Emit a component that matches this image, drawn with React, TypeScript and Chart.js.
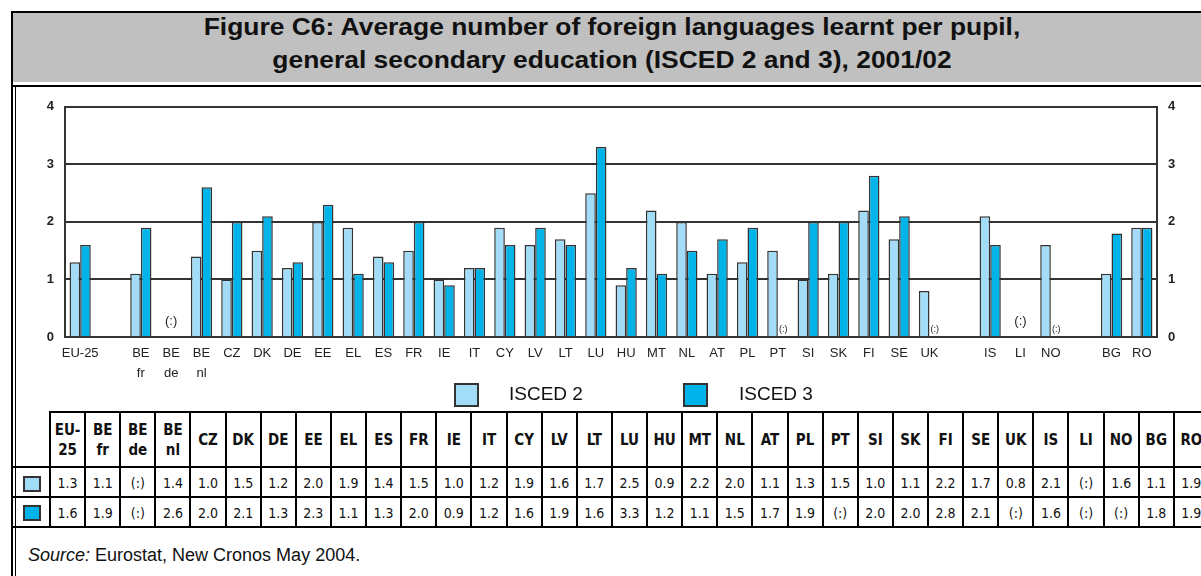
import React, { useEffect, useRef } from 'react';
import { Chart, registerables } from 'chart.js';
Chart.register(...registerables);

const COUNTRIES = ['EU-25', 'BE fr', 'BE de', 'BE nl', 'CZ', 'DK', 'DE', 'EE', 'EL', 'ES', 'FR', 'IE', 'IT', 'CY', 'LV', 'LT', 'LU', 'HU', 'MT', 'NL', 'AT', 'PL', 'PT', 'SI', 'SK', 'FI', 'SE', 'UK', 'IS', 'LI', 'NO', 'BG', 'RO'];
const ISCED2: (number | null)[] = [1.3, 1.1, null, 1.4, 1.0, 1.5, 1.2, 2.0, 1.9, 1.4, 1.5, 1.0, 1.2, 1.9, 1.6, 1.7, 2.5, 0.9, 2.2, 2.0, 1.1, 1.3, 1.5, 1.0, 1.1, 2.2, 1.7, 0.8, 2.1, null, 1.6, 1.1, 1.9];
const ISCED3: (number | null)[] = [1.6, 1.9, null, 2.6, 2.0, 2.1, 1.3, 2.3, 1.1, 1.3, 2.0, 0.9, 1.2, 1.6, 1.9, 1.6, 3.3, 1.2, 1.1, 1.5, 1.7, 1.9, null, 2.0, 2.0, 2.8, 2.1, null, 1.6, null, null, 1.8, 1.9];
const GAP_AFTER = ['EU-25', 'UK', 'NO'];
const Y_MIN = 0;
const Y_MAX = 4;
const SERIES = ['ISCED 2', 'ISCED 3'];
const TITLE_1 = 'Figure C6: Average number of foreign languages learnt per pupil,';
const TITLE_2 = 'general secondary education (ISCED 2 and 3), 2001/02';

const FONT = "'Liberation Sans', Arial, sans-serif";
const NARROW = "'Liberation Sans Narrow', 'DejaVu Sans Condensed', sans-serif";
const LIGHT = '#a3dcf6';
const DARK = '#00b4ea';

function axisLabel(c: string): string | string[] {
  return c.includes(' ') ? c.split(' ') : c;
}
function headerLabel(c: string): string[] {
  if (c === 'EU-25') return ['EU-', '25'];
  return c.split(' ');
}
function fmt(v: number | null) {
  return v == null ? '(:)' : v.toFixed(1);
}

export default function App() {
  const ref = useRef<HTMLCanvasElement>(null);
  useEffect(() => {
    const labels: (string | string[])[] = [];
    const names: string[] = [];
    const d2: (number | null)[] = [];
    const d3: (number | null)[] = [];
    COUNTRIES.forEach((c, i) => {
      labels.push(axisLabel(c));
      names.push(c);
      d2.push(ISCED2[i]);
      d3.push(ISCED3[i]);
      if (GAP_AFTER.includes(c)) {
        labels.push('');
        names.push('');
        d2.push(null);
        d3.push(null);
      }
    });
    const missingPlugin = {
      id: 'missing',
      afterDatasetsDraw(chart: any) {
        const { ctx, scales } = chart;
        const x = scales.x;
        const y = scales.y;
        const slot = (x.right - x.left) / names.length;
        const bw = (slot * 0.7) / 2;
        const y0 = y.getPixelForValue(0);
        ctx.save();
        ctx.fillStyle = '#222';
        ctx.textAlign = 'center';
        ctx.textBaseline = 'middle';
        names.forEach((n, i) => {
          if (!n) return;
          const cx = x.getPixelForValue(i);
          const a = d2[i];
          const b = d3[i];
          if (a == null && b == null) {
            ctx.font = `13px ${FONT}`;
            ctx.fillText('(:)', cx, y0 - 16);
          } else {
            ctx.font = `9px ${FONT}`;
            if (a == null) ctx.fillText('(:)', cx - bw / 2, y0 - 7);
            if (b == null) ctx.fillText('(:)', cx + bw / 2, y0 - 7);
          }
        });
        ctx.restore();
      },
    };
    const tickFont = { family: FONT, size: 13, weight: 'bold' as const };
    const chart = new Chart(ref.current!, {
      type: 'bar',
      data: {
        labels,
        datasets: [
          { label: SERIES[0], data: d2, backgroundColor: LIGHT, borderColor: '#333', borderWidth: 1.5, categoryPercentage: 0.7, barPercentage: 1 },
          { label: SERIES[1], data: d3, backgroundColor: DARK, borderColor: '#333', borderWidth: 1.5, categoryPercentage: 0.7, barPercentage: 1 },
        ],
      },
      options: {
        responsive: false,
        animation: false,
        layout: { padding: { top: 18, left: 0, right: 0, bottom: 0 } },
        plugins: { legend: { display: false }, tooltip: { enabled: false } },
        scales: {
          x: {
            grid: { display: false, drawTicks: false },
            border: { display: false },
            ticks: { color: '#222', font: { family: FONT, size: 13, lineHeight: 1.5 }, padding: 7, maxRotation: 0, autoSkip: false },
            afterFit: (s: any) => { s.height = 48; },
          },
          y: {
            position: 'left',
            min: Y_MIN,
            max: Y_MAX,
            ticks: { stepSize: 1, color: '#222', font: tickFont, padding: 11 },
            grid: { color: '#333', lineWidth: 2, drawTicks: false },
            border: { display: true, color: '#333', width: 2 },
            afterFit: (s: any) => { s.width = 50; },
          },
          y2: {
            position: 'right',
            min: Y_MIN,
            max: Y_MAX,
            ticks: { stepSize: 1, color: '#222', font: tickFont, padding: 11 },
            grid: { display: false, drawTicks: false },
            border: { display: true, color: '#333', width: 2 },
            afterFit: (s: any) => { s.width = 44; },
          },
        },
      } as any,
      plugins: [missingPlugin],
    });
    return () => chart.destroy();
  }, []);

  const X0 = 50;
  const CW = 35.12;
  const lines: React.ReactNode[] = [];
  for (let i = 0; i <= COUNTRIES.length; i++) {
    lines.push(<div key={'v' + i} style={{ position: 'absolute', left: X0 + i * CW - 1, top: 412, width: 2, height: 116, background: '#000' }} />);
  }
  const cells: React.ReactNode[] = [];
  COUNTRIES.forEach((c, i) => {
    const left = X0 + i * CW;
    const hl = headerLabel(c);
    cells.push(
      <div key={'h' + i} style={{ position: 'absolute', left, top: 413, width: CW, height: 54, display: 'flex', flexDirection: 'column', alignItems: 'center', justifyContent: 'center', fontFamily: NARROW, fontWeight: 'bold', fontSize: 15, lineHeight: '20px', color: '#111' }}>
        {hl.map((t, k) => <div key={k}>{t}</div>)}
      </div>
    );
    cells.push(
      <div key={'a' + i} style={{ position: 'absolute', left, top: 468, width: CW, height: 29, display: 'flex', alignItems: 'center', justifyContent: 'center', fontFamily: NARROW, fontSize: 14, color: '#111' }}>{fmt(ISCED2[i])}</div>
    );
    cells.push(
      <div key={'b' + i} style={{ position: 'absolute', left, top: 498, width: CW, height: 29, display: 'flex', alignItems: 'center', justifyContent: 'center', fontFamily: NARROW, fontSize: 14, color: '#111' }}>{fmt(ISCED3[i])}</div>
    );
  });

  const titleStyle: React.CSSProperties = { position: 'absolute', left: 0, right: 0, textAlign: 'center', fontWeight: 'bold', fontSize: 24, lineHeight: '28px', color: '#111', transform: 'scaleX(1.1)', transformOrigin: '601px 50%', whiteSpace: 'nowrap' };

  return (
    <div style={{ position: 'absolute', left: 0, top: 0, width: 1201, height: 576, overflow: 'hidden', background: '#fff', fontFamily: FONT }}>
      <div style={{ position: 'absolute', left: 11, top: 11, width: 1202, height: 71, background: '#c0c0c0', borderTop: '2px solid #000', boxSizing: 'border-box', overflow: 'hidden' }}>
        <div style={{ ...titleStyle, top: 0 }}>{TITLE_1}</div>
        <div style={{ ...titleStyle, top: 33 }}>{TITLE_2}</div>
      </div>
      <div style={{ position: 'absolute', left: 11, top: 11, width: 2, height: 565, background: '#000' }} />
      <div style={{ position: 'absolute', left: 11, top: 85, width: 1190, height: 2, background: '#000' }} />
      <div style={{ position: 'absolute', left: 15, top: 87, width: 1, height: 489, background: '#000' }} />
      <div style={{ position: 'absolute', left: 15, top: 88, width: 1186, height: 297 }}>
        <canvas ref={ref} width={1186} height={297} style={{ width: 1186, height: 297, display: 'block' }} />
      </div>
      {/* legend */}
      <div style={{ position: 'absolute', left: 454, top: 383, width: 21, height: 20, background: LIGHT, border: '2px solid #333' }} />
      <div style={{ position: 'absolute', left: 509, top: 381, fontSize: 19, lineHeight: '26px', color: '#111' }}>{SERIES[0]}</div>
      <div style={{ position: 'absolute', left: 683, top: 383, width: 21, height: 20, background: DARK, border: '2px solid #333' }} />
      <div style={{ position: 'absolute', left: 739, top: 381, fontSize: 19, lineHeight: '26px', color: '#111' }}>{SERIES[1]}</div>
      {/* table */}
      <div style={{ position: 'absolute', left: X0 - 1, top: 411, width: 1200, height: 2, background: '#000' }} />
      <div style={{ position: 'absolute', left: 13, top: 466, width: 1200, height: 2, background: '#000' }} />
      <div style={{ position: 'absolute', left: 13, top: 496, width: 1200, height: 2, background: '#000' }} />
      <div style={{ position: 'absolute', left: 13, top: 526, width: 1200, height: 2, background: '#000' }} />
      {lines}
      {cells}
      <div style={{ position: 'absolute', left: 23, top: 476, width: 14, height: 12, background: LIGHT, border: '2px solid #333' }} />
      <div style={{ position: 'absolute', left: 23, top: 505, width: 14, height: 12, background: DARK, border: '2px solid #333' }} />
      <div style={{ position: 'absolute', left: 28, top: 543, fontSize: 18, lineHeight: '24px', color: '#111' }}>
        <i>Source:</i> Eurostat, New Cronos May 2004.
      </div>
    </div>
  );
}
